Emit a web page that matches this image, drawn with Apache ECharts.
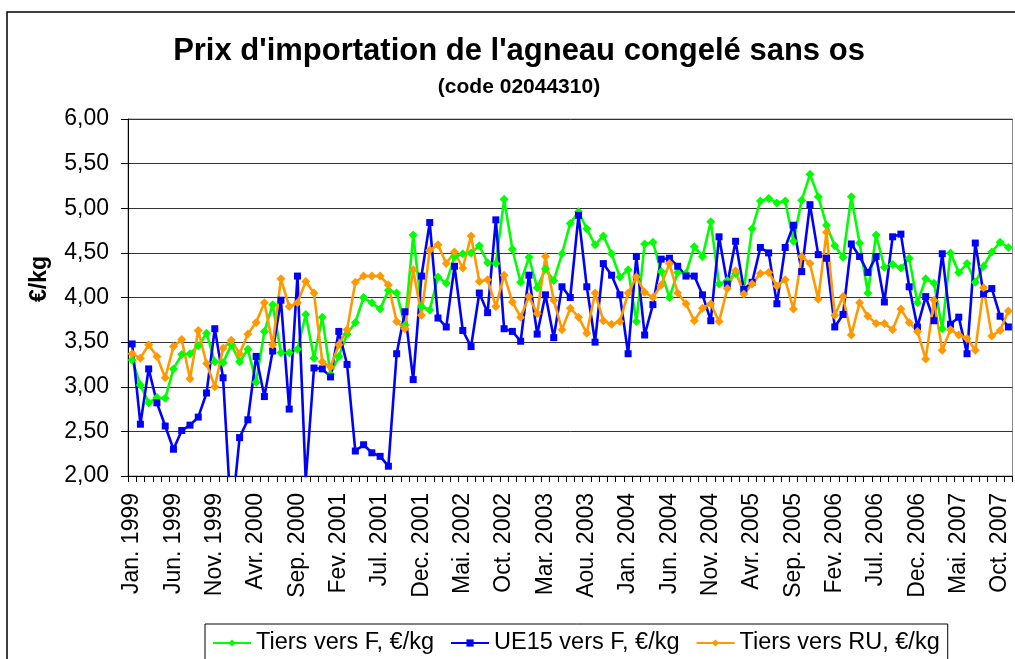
<!DOCTYPE html>
<html>
<head>
<meta charset="utf-8">
<title>Prix d'importation de l'agneau congelé sans os</title>
<script src="https://cdn.jsdelivr.net/npm/echarts@6/dist/echarts.min.js"></script>
<style>
  html, body { margin: 0; padding: 0; background: #fff; }
  #chart { width: 1015px; height: 659px; }
</style>
</head>
<body>
<div id="chart"></div>
<script>
// Month abbreviations used on the category axis, Jan. 1999 .. Nov. 2007
const monthNames = ['Jan.', 'Fev.', 'Mar.', 'Avr.', 'Mai.', 'Jun.', 'Jul.', 'Aou.', 'Sep.', 'Oct.', 'Nov.', 'Dec.'];
const years = [1999, 2000, 2001, 2002, 2003, 2004, 2005, 2006, 2007];
const monthCount = 107;

// Import prices, €/kg
const tiersVersF = [
  3.30, 3.02, 2.82, 2.88, 2.87, 3.20, 3.36, 3.37, 3.46, 3.60, 3.28, 3.27,
  3.47, 3.28, 3.42, 3.05, 3.62, 3.92, 3.38, 3.38, 3.42, 3.81, 3.32, 3.78,
  3.14, 3.34, 3.59, 3.72, 4.00, 3.94, 3.87, 4.08, 4.05, 3.69, 4.70, 3.90,
  3.86, 4.23, 4.16, 4.46, 4.49, 4.50, 4.58, 4.39, 4.38, 5.10, 4.54, 4.17,
  4.45, 4.11, 4.32, 4.19, 4.49, 4.83, 4.96, 4.77, 4.59, 4.69, 4.49, 4.23,
  4.31, 3.73, 4.60, 4.62, 4.29, 4.00, 4.28, 4.27, 4.57, 4.46, 4.85, 4.15,
  4.19, 4.27, 4.09, 4.77, 5.08, 5.11, 5.06, 5.08, 4.63, 5.09, 5.38, 5.13,
  4.81, 4.58, 4.45, 5.13, 4.61, 4.05, 4.70, 4.34, 4.37, 4.33, 4.44, 3.94,
  4.21, 4.16, 3.65, 4.50, 4.28, 4.38, 4.17, 4.35, 4.51, 4.62, 4.56
];
const ue15VersF = [
  3.48, 2.58, 3.20, 2.82, 2.56, 2.30, 2.51, 2.57, 2.66, 2.93, 3.65, 3.10,
  1.50, 2.43, 2.63, 3.34, 2.89, 3.40, 3.97, 2.75, 4.24, 1.95, 3.21, 3.20,
  3.11, 3.62, 3.25, 2.28, 2.35, 2.26, 2.22, 2.11, 3.37, 3.84, 3.08, 4.24,
  4.84, 3.77, 3.67, 4.35, 3.63, 3.45, 4.05, 3.83, 4.87, 3.65, 3.62, 3.51,
  4.25, 3.59, 4.03, 3.55, 4.12, 4.00, 4.92, 4.12, 3.50, 4.38, 4.25, 4.03,
  3.37, 4.46, 3.58, 3.92, 4.43, 4.44, 4.35, 4.24, 4.24, 4.03, 3.74, 4.68,
  4.15, 4.63, 4.09, 4.17, 4.56, 4.50, 3.93, 4.56, 4.81, 4.29, 5.04, 4.48,
  4.44, 3.67, 3.81, 4.60, 4.46, 4.28, 4.46, 3.95, 4.68, 4.71, 4.12, 3.67,
  4.01, 3.74, 4.49, 3.70, 3.78, 3.37, 4.61, 4.04, 4.10, 3.79, 3.67
];
const tiersVersRU = [
  3.37, 3.32, 3.47, 3.34, 3.10, 3.45, 3.53, 3.09, 3.63, 3.26, 3.00, 3.43,
  3.52, 3.37, 3.59, 3.72, 3.94, 3.47, 4.21, 3.90, 3.94, 4.18, 4.05, 3.28,
  3.22, 3.47, 3.64, 4.17, 4.24, 4.24, 4.24, 4.14, 3.73, 3.65, 4.31, 3.80,
  4.53, 4.59, 4.38, 4.51, 4.33, 4.69, 4.18, 4.20, 3.90, 4.25, 3.95, 3.78,
  4.01, 3.82, 4.46, 3.97, 3.64, 3.88, 3.78, 3.60, 4.05, 3.74, 3.70, 3.73,
  4.05, 4.23, 4.06, 4.00, 4.14, 4.38, 4.05, 3.93, 3.74, 3.88, 3.93, 3.73,
  4.10, 4.30, 4.04, 4.15, 4.27, 4.28, 4.13, 4.20, 3.87, 4.46, 4.38, 3.98,
  4.73, 3.80, 4.01, 3.58, 3.94, 3.79, 3.71, 3.71, 3.64, 3.87, 3.72, 3.62,
  3.31, 3.97, 3.41, 3.64, 3.58, 3.54, 3.41, 4.11, 3.57, 3.63, 3.85
];

// Value-axis tick labels, 2,00 .. 6,00
const yTickLabels = ['2,00', '2,50', '3,00', '3,50', '4,00', '4,50', '5,00', '5,50', '6,00'];

const categories = [];
for (let i = 0; i < monthCount; i++) {
  categories.push(monthNames[i % 12] + ' ' + years[Math.floor(i / 12)]);
}

const FONT = "'Liberation Sans', Arial, sans-serif";

const chart = echarts.init(document.getElementById('chart'), null, { renderer: 'canvas' });

function lineSeries(name, data, color, symbol, size) {
  return {
    name: name,
    type: 'line',
    data: data,
    symbol: symbol,
    symbolSize: size,
    showAllSymbol: true,
    clip: true,
    animation: false,
    lineStyle: { color: color, width: 2.6 },
    itemStyle: { color: color, borderWidth: 0 }
  };
}

chart.setOption({
  animation: false,
  backgroundColor: '#ffffff',
  title: [
    {
      text: "Prix d'importation de l'agneau congelé sans os",
      left: 519,
      top: 36,
      textAlign: 'center',
      padding: 0,
      textStyle: { fontFamily: FONT, fontSize: 31, fontWeight: 'bold', color: '#000' }
    },
    {
      text: '(code 02044310)',
      left: 519,
      top: 77,
      textAlign: 'center',
      padding: 0,
      textStyle: { fontFamily: FONT, fontSize: 21, fontWeight: 'bold', color: '#000' }
    }
  ],
  graphic: [
    {
      type: 'rect',
      z: -10,
      shape: { x: 7, y: 12, width: 1200, height: 900 },
      style: { fill: 'none', stroke: '#000', lineWidth: 1.5 }
    },
    {
      type: 'text',
      x: 40,
      y: 279,
      rotation: Math.PI / 2,
      style: {
        text: '€/kg',
        font: 'bold 23px ' + FONT,
        fill: '#000',
        align: 'center',
        verticalAlign: 'middle'
      }
    }
  ],
  legend: {
    left: 205,
    top: 624,
    padding: [7, 8, 30, 7],
    itemGap: 16,
    itemWidth: 38,
    itemHeight: 9,
    borderColor: '#000',
    borderWidth: 1,
    textStyle: { fontFamily: FONT, fontSize: 23.5, color: '#000' },
    data: ['Tiers vers F, €/kg', 'UE15 vers F, €/kg', 'Tiers vers RU, €/kg']
  },
  grid: {
    left: 128,
    right: 2.5,
    top: 119,
    bottom: 183,
    containLabel: false,
    show: true,
    borderColor: '#8a8a8a',
    borderWidth: 1,
    backgroundColor: '#fff'
  },
  xAxis: {
    type: 'category',
    data: categories,
    boundaryGap: true,
    axisLine: { lineStyle: { color: '#000', width: 1 } },
    axisTick: { show: true, interval: 0, length: 6, inside: false, alignWithLabel: false, lineStyle: { color: '#000' } },
    axisLabel: {
      interval: 4,
      rotate: 90,
      margin: 17,
      fontFamily: FONT,
      fontSize: 23,
      color: '#000'
    },
    splitLine: { show: false }
  },
  yAxis: {
    type: 'value',
    min: 2,
    max: 6,
    interval: 0.5,
    axisLine: { show: true, lineStyle: { color: '#000', width: 1 } },
    axisTick: { show: true, length: 7, inside: false, lineStyle: { color: '#000' } },
    axisLabel: {
      margin: 19,
      fontFamily: FONT,
      fontSize: 23,
      color: '#000',
      formatter: function (v) {
        return yTickLabels[Math.round((v - 2) / 0.5)];
      }
    },
    splitLine: { show: true, lineStyle: { color: '#333333', width: 1 } }
  },
  series: [
    lineSeries('Tiers vers F, €/kg', tiersVersF, '#00ff00', 'diamond', 9),
    lineSeries('UE15 vers F, €/kg', ue15VersF, '#0000ff', 'rect', 7),
    lineSeries('Tiers vers RU, €/kg', tiersVersRU, '#ff9900', 'diamond', 9)
  ]
});
</script>
</body>
</html>
